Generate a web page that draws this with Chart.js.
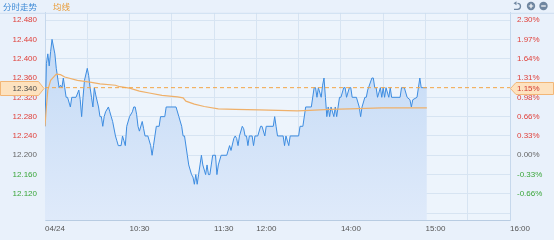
<!DOCTYPE html>
<html>
<head>
<meta charset="utf-8">
<script src="https://cdn.jsdelivr.net/npm/chart.js@4"></script>
<style>
  html, body { margin: 0; padding: 0; background: #e9f1fb; }
  #wrap { width: 554px; height: 240px; position: relative; }
</style>
</head>
<body>
<div id="wrap"><canvas id="chart"></canvas></div>
<script>
// minutes after 09:30 open (lunch break removed) and prices
const priceMinutes = [
    0, 1, 2, 3, 4, 5, 7, 8, 9, 10,
    11, 12, 13, 14, 15, 16, 18, 19, 22, 24,
    25, 26, 27, 28, 30, 31, 32, 33, 34, 35,
    36, 38, 39, 40, 41, 42, 43, 45, 46, 47,
    48, 50, 51, 52, 54, 55, 56, 57, 58, 60,
    62, 63, 64, 65, 66, 67, 69, 70, 71, 73,
    75, 76, 77, 78, 79, 81, 82, 85, 86, 93,
    95, 97, 98, 99, 101, 102, 104, 105, 106, 107,
    108, 109, 110, 111, 112, 114, 115, 116, 117, 118,
    119, 121, 122, 123, 125, 129, 131, 132, 134, 135,
    136, 137, 138, 140, 141, 142, 143, 144, 145, 147,
    148, 149, 151, 153, 154, 156, 157, 162, 163, 164,
    165, 169, 170, 171, 173, 174, 180, 181, 183, 185,
    189, 191, 192, 193, 194, 196, 197, 198, 199, 200,
    201, 202, 203, 205, 206, 207, 208, 209, 210, 212,
    213, 214, 216, 217, 218, 221, 223, 224, 225, 227,
    228, 229, 232, 233, 234, 235, 236, 238, 239, 240,
    241, 242, 244, 245, 246, 252, 253, 255, 257, 259,
    260, 261, 264, 265, 266, 267, 271
];
const prices = [
    12.26, 12.39, 12.41, 12.385, 12.415, 12.44, 12.41, 12.38, 12.36, 12.34,
    12.345, 12.34, 12.36, 12.34, 12.32, 12.32, 12.30, 12.32, 12.32, 12.335,
    12.315, 12.28, 12.32, 12.355, 12.38, 12.365, 12.34, 12.32, 12.30, 12.34,
    12.325, 12.30, 12.28, 12.28, 12.26, 12.28, 12.29, 12.30, 12.29, 12.28,
    12.27, 12.24, 12.23, 12.22, 12.22, 12.24, 12.23, 12.22, 12.26, 12.28,
    12.29, 12.30, 12.30, 12.285, 12.26, 12.25, 12.27, 12.255, 12.24, 12.24,
    12.22, 12.20, 12.22, 12.24, 12.26, 12.26, 12.28, 12.28, 12.30, 12.30,
    12.28, 12.26, 12.24, 12.24, 12.20, 12.18, 12.16, 12.155, 12.14, 12.16,
    12.14, 12.16, 12.18, 12.20, 12.18, 12.16, 12.18, 12.16, 12.16, 12.18,
    12.20, 12.20, 12.16, 12.18, 12.20, 12.20, 12.22, 12.21, 12.235, 12.24,
    12.235, 12.22, 12.24, 12.26, 12.255, 12.24, 12.24, 12.22, 12.24, 12.24,
    12.22, 12.24, 12.24, 12.26, 12.26, 12.24, 12.26, 12.26, 12.28, 12.26,
    12.24, 12.24, 12.22, 12.24, 12.22, 12.24, 12.24, 12.26, 12.26, 12.30,
    12.30, 12.34, 12.34, 12.32, 12.34, 12.32, 12.345, 12.36, 12.32, 12.28,
    12.30, 12.28, 12.30, 12.28, 12.30, 12.28, 12.30, 12.32, 12.32, 12.34,
    12.34, 12.32, 12.34, 12.34, 12.32, 12.32, 12.30, 12.28, 12.30, 12.32,
    12.32, 12.335, 12.36, 12.36, 12.34, 12.34, 12.32, 12.34, 12.32, 12.34,
    12.32, 12.34, 12.32, 12.34, 12.32, 12.32, 12.34, 12.34, 12.32, 12.315,
    12.30, 12.315, 12.32, 12.34, 12.36, 12.34, 12.34
];

// average price line
const avgMinutes = [0, 1, 2, 4, 8, 11, 14, 23, 33, 39, 50, 53, 60, 67, 74, 83, 94, 98, 100, 106, 113, 123, 135, 152, 179, 188, 202, 216, 239, 271];
const avgPrices = [12.26, 12.30, 12.335, 12.355, 12.368, 12.367, 12.362, 12.355, 12.351, 12.348, 12.345, 12.342, 12.339, 12.333, 12.329, 12.324, 12.321, 12.319, 12.312, 12.306, 12.301, 12.296, 12.295, 12.294, 12.292, 12.293, 12.295, 12.296, 12.298, 12.298];

const preClose = 12.20;
const lastPrice = 12.34;
const lastPriceText = '12.340';
const lastPct = '1.15%';

const yTicks = [12.08, 12.12, 12.16, 12.20, 12.24, 12.28, 12.32, 12.36, 12.40, 12.44, 12.48];
const pctLabels = ['', '-0.66%', '-0.33%', '0.00%', '0.33%', '0.66%', '0.98%', '1.31%', '1.64%', '1.97%', '2.30%'];
const yMin = 12.066;
const yMax = 12.495;

const xTickMinutes = [0, 60, 120, 150, 210, 270, 330];
const xTickLabels = ['04/24', '10:30', '11:30', '12:00', '14:00', '15:00', '16:00'];

const titleText = '分时走势';
const avgText = '均线';

const RED = '#e0413b';
const GREEN = '#3aa63a';
const GRAY = '#666666';
const GRID = '#d7e4f2';

Chart.defaults.font.family = '"Liberation Sans", Arial, sans-serif';
Chart.defaults.font.size = 8;

function tickColor(v) {
    if (Math.abs(v - preClose) < 1e-6) return GRAY;
    return v > preClose ? RED : GREEN;
}

const decor = {
    id: 'decor',
    beforeDraw(chart) {
        const { ctx, chartArea: a } = chart;
        ctx.save();
        ctx.fillStyle = '#edf4fc';
        ctx.fillRect(a.left, a.top, a.right - a.left, a.bottom - a.top);
        ctx.restore();
    },
    afterDraw(chart) {
        const { ctx, chartArea: a, scales } = chart;
        const y = Math.round(scales.y.getPixelForValue(lastPrice)) + 0.5;
        ctx.save();

        // header strip
        ctx.strokeStyle = '#cddef0';
        ctx.lineWidth = 1;
        ctx.beginPath();
        ctx.moveTo(0, a.top + 0.5);
        ctx.lineTo(chart.width, a.top + 0.5);
        ctx.stroke();
        ctx.font = '8.5px "Noto Sans CJK SC"';
        ctx.textBaseline = 'middle';
        ctx.textAlign = 'left';
        ctx.fillStyle = '#3d8ad6';
        ctx.fillText(titleText, 3, 6.5);
        ctx.fillStyle = '#e89a35';
        ctx.fillText(avgText, 53, 6.5);

        // icons: undo, zoom in, zoom out
        ctx.strokeStyle = '#6f86a0';
        ctx.fillStyle = '#6f86a0';
        ctx.lineWidth = 1.3;
        ctx.beginPath();
        ctx.arc(517.5, 6.3, 3, -Math.PI / 2, Math.PI / 2);
        ctx.lineTo(514, 9.3);
        ctx.stroke();
        ctx.beginPath();
        ctx.moveTo(513.5, 3.3);
        ctx.lineTo(516.5, 1.3);
        ctx.lineTo(516.5, 5.3);
        ctx.closePath();
        ctx.fill();
        [531, 543.5].forEach((cx, i) => {
            ctx.fillStyle = '#6f86a0';
            ctx.beginPath();
            ctx.arc(cx, 6, 4.2, 0, Math.PI * 2);
            ctx.fill();
            ctx.strokeStyle = '#ffffff';
            ctx.lineWidth = 1.2;
            ctx.beginPath();
            ctx.moveTo(cx - 2.3, 6);
            ctx.lineTo(cx + 2.3, 6);
            if (i === 0) {
                ctx.moveTo(cx, 3.7);
                ctx.lineTo(cx, 8.3);
            }
            ctx.stroke();
        });

        // last price boxes
        ctx.lineWidth = 1;
        ctx.fillStyle = '#fde2bf';
        ctx.strokeStyle = '#f2b676';
        ctx.beginPath();
        ctx.moveTo(0.5, y - 7);
        ctx.lineTo(38.5, y - 7);
        ctx.lineTo(44, y);
        ctx.lineTo(38.5, y + 7);
        ctx.lineTo(0.5, y + 7);
        ctx.closePath();
        ctx.fill();
        ctx.stroke();
        ctx.beginPath();
        ctx.moveTo(a.right + 0.5, y);
        ctx.lineTo(a.right + 6, y - 6);
        ctx.lineTo(553.5, y - 6);
        ctx.lineTo(553.5, y + 6);
        ctx.lineTo(a.right + 6, y + 6);
        ctx.closePath();
        ctx.fill();
        ctx.stroke();
        ctx.font = '8px "Liberation Sans", Arial, sans-serif';
        ctx.fillStyle = '#4a4a4a';
        ctx.textAlign = 'right';
        ctx.fillText(lastPriceText, 37, y);
        ctx.fillStyle = '#d23c32';
        ctx.textAlign = 'left';
        ctx.fillText(lastPct, a.right + 7, y);
        ctx.restore();
    }
};

const ctx = document.getElementById('chart').getContext('2d');
const chart = new Chart(ctx, {
    type: 'line',
    data: {
        datasets: [
            {
                // dashed last price line
                data: [{ x: 0, y: lastPrice }, { x: 330, y: lastPrice }],
                borderColor: '#f4a546',
                borderWidth: 1,
                borderDash: [4, 3],
                pointRadius: 0,
                fill: false
            },
            {
                data: avgMinutes.map((m, i) => ({ x: m, y: avgPrices[i] })),
                borderColor: '#efb06a',
                borderWidth: 1.2,
                pointRadius: 0,
                fill: false
            },
            {
                data: priceMinutes.map((m, i) => ({ x: m, y: prices[i] })),
                borderColor: '#3d8ce0',
                borderWidth: 1,
                pointRadius: 0,
                fill: 'start',
                backgroundColor: (c) => {
                    const area = c.chart.chartArea;
                    if (!area) return 'rgba(0,0,0,0)';
                    const g = c.chart.ctx.createLinearGradient(0, area.top, 0, area.bottom);
                    g.addColorStop(0, '#c0d8f5');
                    g.addColorStop(1, '#dfeafa');
                    return g;
                }
            }
        ]
    },
    options: {
        responsive: true,
        maintainAspectRatio: false,
        devicePixelRatio: 1,
        animation: false,
        events: [],
        layout: { padding: { top: 12, left: 0, right: 0, bottom: 0 } },
        plugins: { legend: { display: false }, tooltip: { enabled: false } },
        elements: { line: { tension: 0 } },
        scales: {
            x: {
                type: 'linear',
                min: 0,
                max: 330,
                afterBuildTicks: (axis) => {
                    const t = [];
                    for (let m = 0; m <= 330; m += 30) t.push({ value: m });
                    axis.ticks = t;
                },
                afterFit: (s) => { s.height = 20; },
                grid: { color: GRID, drawTicks: false },
                border: { color: '#b8cce2' },
                ticks: {
                    autoSkip: false,
                    maxRotation: 0,
                    align: 'start',
                    padding: 4,
                    color: '#555555',
                    callback: (v) => {
                        const i = xTickMinutes.indexOf(v);
                        return i >= 0 ? xTickLabels[i] : '';
                    }
                }
            },
            y: {
                position: 'left',
                min: yMin,
                max: yMax,
                afterBuildTicks: (axis) => { axis.ticks = yTicks.map(v => ({ value: v })); },
                afterFit: (s) => { s.width = 45; },
                grid: { color: GRID, drawTicks: false },
                border: { color: '#c6d8ec' },
                ticks: {
                    padding: 8,
                    color: (c) => tickColor(c.tick.value),
                    callback: (v, i) => (i === 0 ? '' : v.toFixed(3))
                }
            },
            y2: {
                position: 'right',
                min: yMin,
                max: yMax,
                afterBuildTicks: (axis) => { axis.ticks = yTicks.map(v => ({ value: v })); },
                afterFit: (s) => { s.width = 44; },
                grid: { drawOnChartArea: false, drawTicks: false },
                border: { color: '#c6d8ec' },
                ticks: {
                    padding: 7,
                    color: (c) => tickColor(c.tick.value),
                    callback: (v, i) => pctLabels[i]
                }
            }
        }
    },
    plugins: [decor]
});
</script>
</body>
</html>
